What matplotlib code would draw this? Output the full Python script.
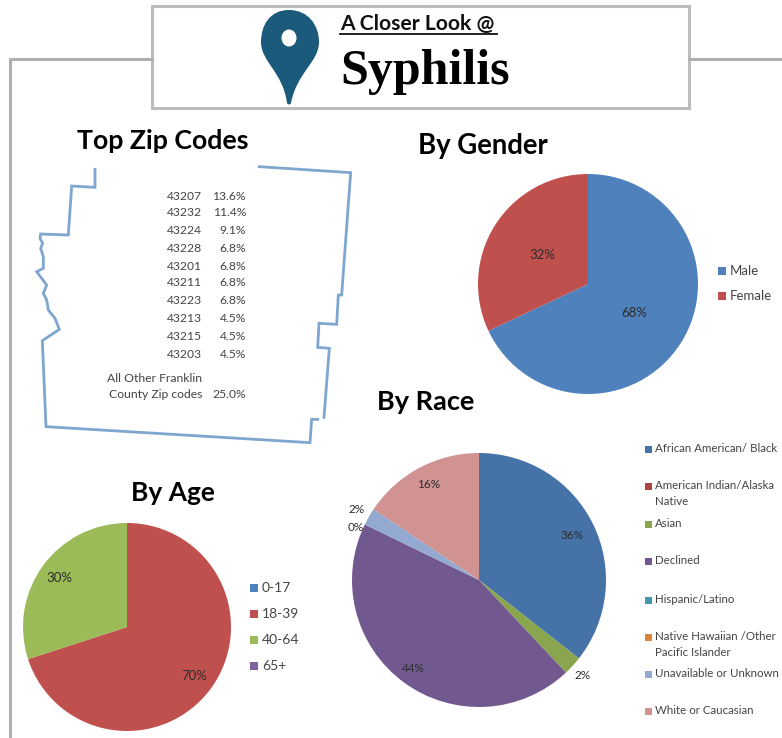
import matplotlib
matplotlib.use("Agg")
import matplotlib.pyplot as plt
from matplotlib.patches import Rectangle, PathPatch, Ellipse
from matplotlib.path import Path
import numpy as np

W, H = 782, 738

zip_codes = ["43207","43232","43224","43228","43201","43211","43223","43213","43215","43203"]
zip_shares = ["13.6%","11.4%","9.1%","6.8%","6.8%","6.8%","6.8%","4.5%","4.5%","4.5%"]
zip_other_share = "25.0%"

gender_labels = ["Male", "Female"]
gender_values = [68, 32]
gender_colors = ["#4F81BD", "#C0504D"]

age_labels = ["0-17", "18-39", "40-64", "65+"]
age_values = [0, 70, 30, 0]
age_colors = ["#4F81BD", "#C0504D", "#9BBB59", "#8064A2"]

race_labels = ["African American/ Black", "American Indian/Alaska\nNative", "Asian", "Declined",
               "Hispanic/Latino", "Native Hawaiian /Other\nPacific Islander",
               "Unavailable or Unknown", "White or Caucasian"]
race_values = [35.6, 0, 2.4, 44.2, 0, 0, 2.2, 15.6]
race_colors = ["#4572A7", "#AA4643", "#89A54E", "#71588F", "#4198AF", "#DB843D", "#93A9CF", "#D09392"]

map_west = [(225,58),(225,112),(155,108),(145,255),(62,252),(60,265),(68,280),(62,295),(70,320),(70,355),
            (50,365),(80,405),(70,430),(80,450),(85,480),(105,505),(118,538),(67,572),(78,830),(870,878),
            (875,808),(893,808)]
map_east = [(718,50),(992,68),(965,435),(955,435),(950,523),(897,520),(893,592),(928,595),(912,802)]

TITLE = "Lato"
BODY = "Lato"
TXT = "#444444"

fig = plt.figure(figsize=(W/100, H/100), dpi=100, facecolor="white")
bg = fig.add_axes([0, 0, 1, 1], zorder=0)
bg.set_xlim(0, W); bg.set_ylim(H, 0); bg.axis("off")
fg = fig.add_axes([0, 0, 1, 1], zorder=5)
fg.set_xlim(0, W); fg.set_ylim(H, 0); fg.axis("off"); fg.patch.set_alpha(0)

# frame + header box
grey = "#b0b0b0"
bg.plot([10, 10, 152], [738, 59, 59], color=grey, lw=2.2, solid_joinstyle="miter")
bg.plot([689, 782], [59, 59], color=grey, lw=2.2)
bg.add_patch(Rectangle((152, 6), 537, 102, fc="white", ec="#bcbcbc", lw=2.2))

# pin
pin = Path([(289,10),(308,10),(319,25),(319,42),(319,62),(297,72),(291,103),(290,105),(288,105),(287,103),
            (283,72),(261,62),(261,42),(261,25),(270,10),(289,10)],
           [Path.MOVETO]+[Path.CURVE4]*15)
bg.add_patch(PathPatch(pin, fc="#1B5A7A", ec="none"))
bg.add_patch(Ellipse((289, 38), 15, 17, fc="white", ec="none"))

bg.text(340, 24, "A Closer Look @", fontsize=15.2, family=TITLE, fontweight="bold", color="#111111", va="center")
bg.plot([340, 497], [33.5, 33.5], color="#111111", lw=1.3)
bg.text(340, 72, "Syphilis", fontsize=36, family="Liberation Serif", fontweight="bold", color="black", va="center")

# section titles
for x, y, t, s in [(163, 141, "Top Zip Codes", 19.3), (482.5, 146, "By Gender", 19.8), (426, 402, "By Race", 19.5), (173, 493, "By Age", 19)]:
    bg.text(x, y, t, fontsize=s, family=TITLE, fontweight="bold", color="black", ha="center", va="center")

# county map
def m(pts):
    a = np.array(pts, float)
    return a[:, 0]/3 + 20, a[:, 1]/3 + 150
for part in (map_west, map_east):
    bg.plot(*m(part), color="#7FA6CF", lw=2.0, solid_joinstyle="miter")

# zip table
ZS = 8.7
zip_ys = [197, 213, 231, 248, 266, 283, 301, 319, 336, 354]
for y, z, s in zip(zip_ys, zip_codes, zip_shares):
    bg.text(202, y, z, fontsize=ZS, family=BODY, color=TXT, ha="right", va="center")
    bg.text(246, y, s, fontsize=ZS, family=BODY, color=TXT, ha="right", va="center")
bg.text(202, 378, "All Other Franklin", fontsize=ZS, family=BODY, color=TXT, ha="right", va="center")
bg.text(202, 395, "County Zip codes", fontsize=ZS, family=BODY, color=TXT, ha="right", va="center")
bg.text(246, 395, zip_other_share, fontsize=ZS, family=BODY, color=TXT, ha="right", va="center")

def pie(cx, cy, R, values, colors, dists, texts, size, nudges=None):
    ax = fig.add_axes([(cx-R)/W, 1-(cy+R)/H, 2*R/W, 2*R/H], zorder=2)
    ax.pie(values, colors=colors, startangle=90, counterclock=False, radius=1,
           wedgeprops=dict(linewidth=0))
    ax.set_xlim(-1, 1); ax.set_ylim(-1, 1)
    v = np.array(values, float)
    mids = (np.cumsum(v) - v/2) / v.sum() * 2*np.pi
    for i, (d, t) in enumerate(zip(dists, texts)):
        if t is None:
            continue
        dy = nudges[i] if nudges else 0
        x = cx + d*R*np.sin(mids[i])
        y = cy - d*R*np.cos(mids[i]) + dy
        fg.text(x, y, t, fontsize=size, family=BODY, color="#2c2c2c", ha="center", va="center")

def legend(x, ys, labels, colors, size=9.5, tx=8, sq=8):
    for y, l, c in zip(ys, labels, colors):
        fg.add_patch(Rectangle((x-sq/2, y-sq/2), sq, sq, fc=c, ec="none"))
        fg.text(x+tx, y-6, l, fontsize=size, family=BODY, color=TXT, ha="left", va="top", linespacing=1.55)

pie(588, 284, 110, gender_values, gender_colors, [0.5, 0.49], ["68%", "32%"], 9.5)
legend(722, [271, 296], gender_labels, gender_colors)

pie(127, 627, 104, age_values, age_colors, [0, 0.8, 0.8, 0], [None, "70%", "30%", None], 9.5)
legend(254, [588, 614, 640, 666], age_labels, age_colors, size=10)

pie(479, 580, 127, race_values, race_colors,
    [0.81, 0, 1.11, 0.87, 1.08, 0, 1.11, 0.85],
    ["36%", None, "2%", "44%", "0%", None, "2%", "16%"], 8.5,
    [0, 0, 0, 0, 7, 0, 0, 0])
legend(648.5, [449.5, 486, 524, 561, 600, 637, 674, 711], race_labels, race_colors, size=8.3, tx=6.5, sq=7)

fig.savefig("out.png", dpi=100)
